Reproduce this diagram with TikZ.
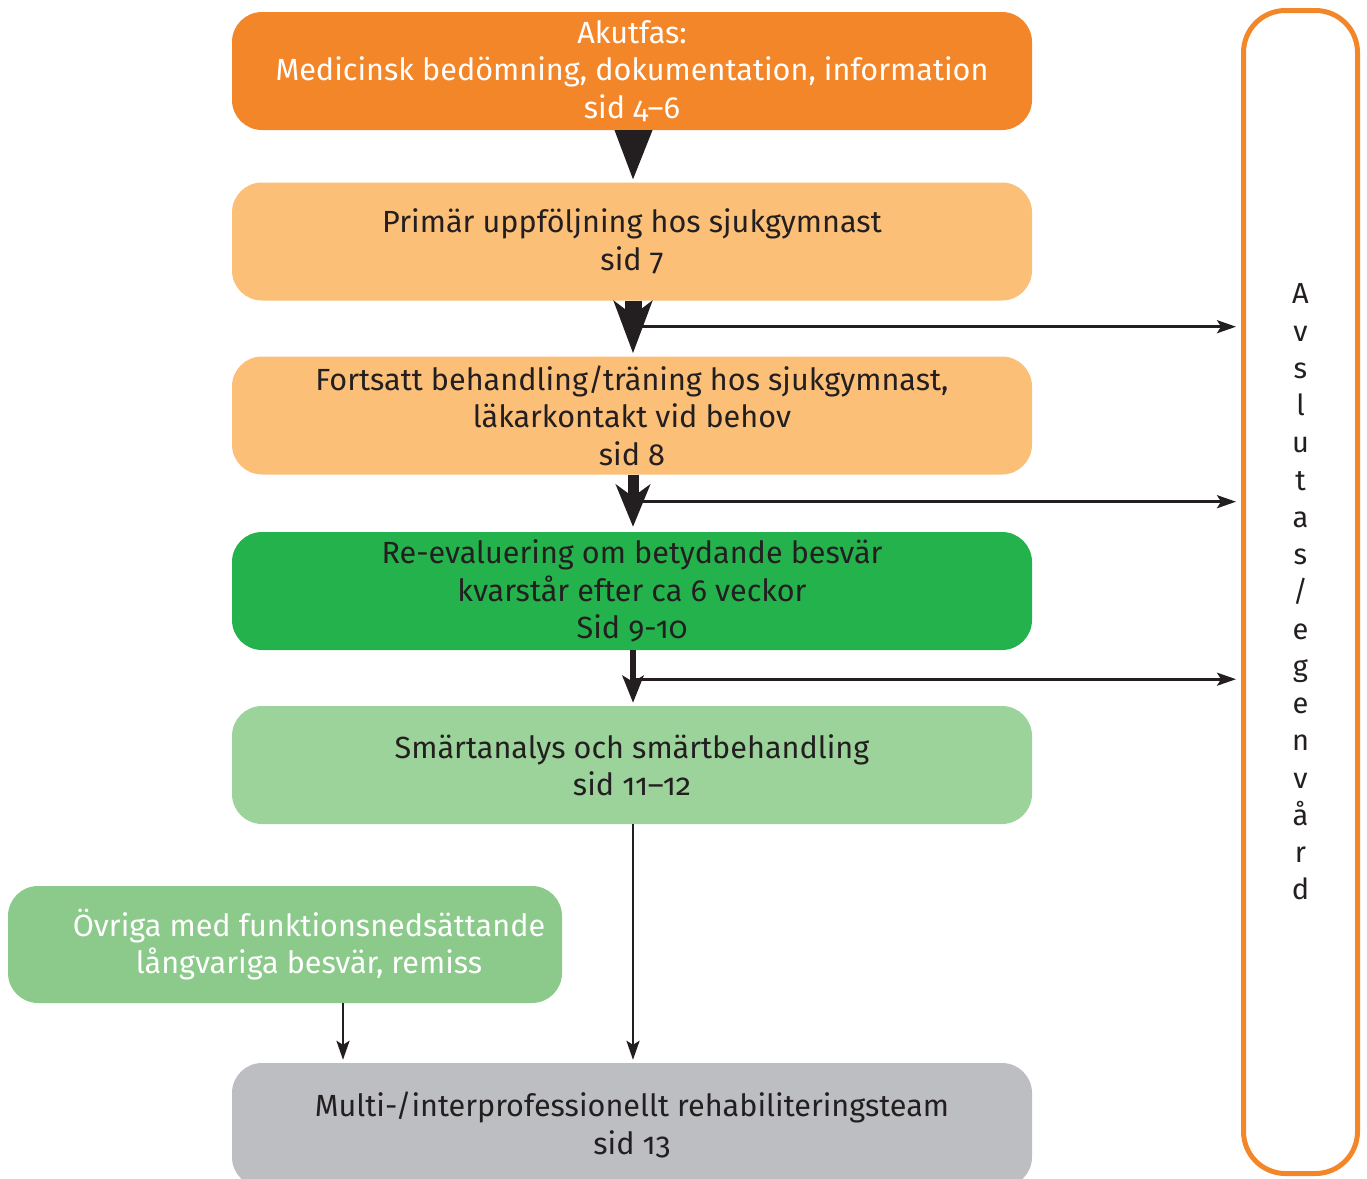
\documentclass[tikz,border=0pt]{standalone}
\usepackage{fontspec}
\setmainfont{Fira Sans}[Numbers=OldStyle]
\usetikzlibrary{arrows.meta,calc}

\definecolor{akut}{HTML}{F4862A}
\definecolor{pale}{HTML}{FBBF77}
\definecolor{grnDark}{HTML}{23B24B}
\definecolor{grnLight}{HTML}{9BD39A}
\definecolor{grnMid}{HTML}{8BCA8A}
\definecolor{greyBox}{HTML}{BDBEC1}
\definecolor{ink}{HTML}{231F20}

\tikzset{
  stagefont/.style={font=\fontsize{30.6}{37.5}\selectfont},
  stage/.style={rounded corners=30pt, minimum width=800pt, minimum height=118pt,
    inner sep=0pt, align=center, text=ink, stagefont},
  flow/.style={draw=ink, line width=2.6pt, shorten >=3pt,
    -{Stealth[length=19pt,width=13pt,inset=4pt]}},
  exitflow/.style={draw=ink, line width=2.6pt, shorten >=5pt,
    -{Stealth[length=19pt,width=13pt,inset=4pt]}},
}

\begin{document}
\begin{tikzpicture}[x=1pt,y=-1pt]
  \useasboundingbox (0,0) rectangle (1367,1178);

  % main chain of stages
  \node[stage, fill=akut, text=white] (akut) at (632,71)
    {Akutfas:\\Medicinsk bedömning, dokumentation, information\\sid 4–6};
  \node[stage, fill=pale] (primar) at (632,241.5)
    {Primär uppföljning hos sjukgymnast\\sid 7};
  \node[stage, fill=pale] (fortsatt) at (632,415.5)
    {Fortsatt behandling/träning hos sjukgymnast,\\läkarkontakt vid behov\\sid 8};
  \node[stage, fill=grnDark] (reeval) at (632,591)
    {Re-evaluering om betydande besvär\\kvarstår efter ca 6 veckor\\Sid 9-10};
  \node[stage, fill=grnLight] (smarta) at (632,765)
    {Smärtanalys och smärtbehandling\\sid 11–12};
  \node[stage, fill=greyBox, minimum height=124pt] (team) at (632,1125)
    {Multi-/interprofessionellt rehabiliteringsteam\\sid 13};

  % side entry
  \node[stage, fill=grnMid, minimum width=554pt, minimum height=117pt] (ovriga) at (285,944.5) {};
  \node[align=center, text=white, inner sep=0pt, stagefont] (ovrigatxt) at (309,944.5)
    {Övriga med funktionsnedsättande\\långvariga besvär, remiss};

  % exit column
  \node[draw=akut, line width=5pt, rounded corners=42pt, minimum width=114pt,
        minimum height=1163pt, inner sep=0pt, align=center, text=ink,
        font=\fontsize{29}{37.25}\selectfont] (exit) at (1300.5,592)
    {A\\v\\s\\l\\u\\t\\a\\s\\/\\e\\g\\e\\n\\v\\å\\r\\d};

  % branch points toward the exit column
  \coordinate (j2) at ($(primar.south)+(1,26)$);
  \coordinate (j3) at ($(fortsatt.south)+(1,27)$);
  \coordinate (j4) at ($(reeval.south)+(1,29)$);
  \draw[exitflow] (j2) -- (exit.west |- j2);
  \draw[exitflow] (j3) -- (exit.west |- j3);
  \draw[exitflow] (j4) -- (exit.west |- j4);

  % tapering arrows down the chain
  \fill[ink] ($(akut.south)+(-17.5,0)$) -- ($(akut.south)+(20.5,0)$) -- ($(primar.north)+(1,-3)$) -- cycle;
  \draw[ink, line width=17pt, shorten >=3pt,
        -{Stealth[length=52pt,width=38pt,inset=14pt]}]
        ($(primar.south)+(1,0)$) -- ($(fortsatt.north)+(1,0)$);
  \draw[ink, line width=11pt, shorten >=5pt,
        -{Stealth[length=42pt,width=34pt,inset=12pt]}]
        ($(fortsatt.south)+(1,0)$) -- ($(reeval.north)+(1,0)$);
  \draw[ink, line width=5.5pt, shorten >=3pt,
        -{Stealth[length=27pt,width=21pt,inset=6pt]}]
        ($(reeval.south)+(1,0)$) -- ($(smarta.north)+(1,0)$);

  % into the team
  \draw[flow] ($(smarta.south)+(1,0)$) -- ($(team.north)+(1,0)$);
  \draw[flow] (ovriga.south -| 343,0) -- (team.north -| 343,0);
\end{tikzpicture}
\end{document}
